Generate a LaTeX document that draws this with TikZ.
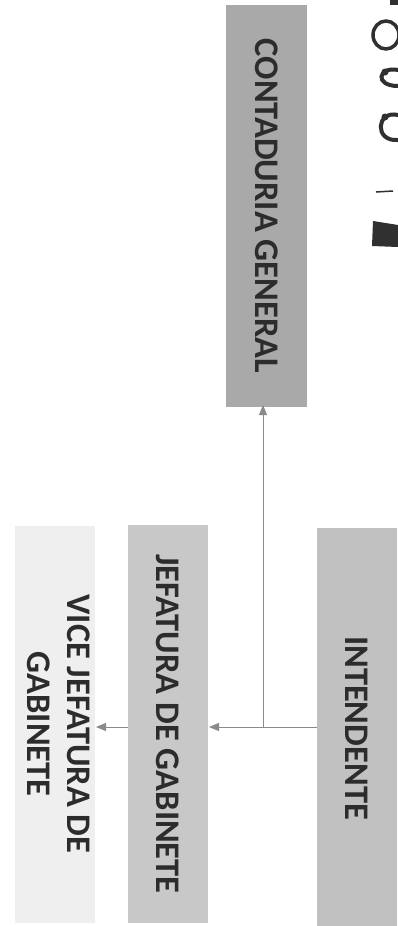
\documentclass[tikz,border=0pt]{standalone}
\usepackage{fontspec}
\setmainfont{Carlito}
\usetikzlibrary{arrows.meta}
\definecolor{boxA}{HTML}{A9A9A9}
\definecolor{boxB}{HTML}{C8C8C8}
\definecolor{boxC}{HTML}{C1C1C1}
\definecolor{boxD}{HTML}{EFEFEF}
\definecolor{txt}{HTML}{2C2C2C}
\definecolor{conn}{HTML}{8A8A8A}
\definecolor{scan}{HTML}{303030}
\tikzset{
  orgbox/.style={inner sep=0pt, outer sep=0pt, text=txt,
    font=\bfseries\fontsize{34.5}{40}\selectfont, align=center},
  orgarrow/.style={draw=conn, line width=1pt, -{Triangle[length=10pt,width=8pt,fill=conn]}},
  orgline/.style={draw=conn, line width=1pt},
  scanmark/.style={draw=scan, line width=4pt, line cap=round}
}
\begin{document}
\begin{tikzpicture}[x=1pt,y=-1pt]
\useasboundingbox[fill=white] (0,0) rectangle (398,926);
% boxes
\node[orgbox, fill=boxA, minimum width=81pt, minimum height=402pt] (cont) at (266.5,206)
  {\rotatebox{-90}{CONTADURIA GENERAL}};
\node[orgbox, fill=boxC, minimum width=80pt, minimum height=400pt] (int) at (357,728)
  {\rotatebox{-90}{INTENDENTE}};
\node[orgbox, fill=boxB, minimum width=80pt, minimum height=398pt] (jef) at (168,724)
  {\rotatebox{-90}{JEFATURA DE GABINETE}};
\node[orgbox, fill=boxD, minimum width=80pt, minimum height=397pt] (vice) at (55,724)
  {\rotatebox{-90}{\begin{tabular}{@{}c@{}}VICE JEFATURA DE\\GABINETE\end{tabular}}};
% connectors
\coordinate (j) at (263,727);
\draw[orgline] (int.west |- j) -- (j);
\draw[orgarrow] (j) -- ([xshift=1pt]jef.east |- j);
\draw[orgarrow] (j) -- ([yshift=2pt]j |- cont.south);
\draw[orgarrow] (jef.west |- j) -- ([xshift=1pt]vice.east |- j);
% scan fragments at the right edge
\draw[scanmark, line width=3.5pt] (386,35) ellipse (13pt and 14pt);
\fill[scan] (390,0) rectangle (398,5);
\draw[scanmark] (398,70) .. controls (378,66) and (374,86) .. (398,86);
\fill[scan] (385,72) circle (3.5pt);
\draw[scanmark] (398,115) .. controls (376,110) and (374,142) .. (398,140);
\fill[scan] (385,117) circle (3.5pt);
\draw[scan, line width=1.5pt] (376,192) -- (393,191);
\fill[scan] (373,221) -- (398,225) -- (398,247) -- (372,246) -- cycle;
\end{tikzpicture}
\end{document}
